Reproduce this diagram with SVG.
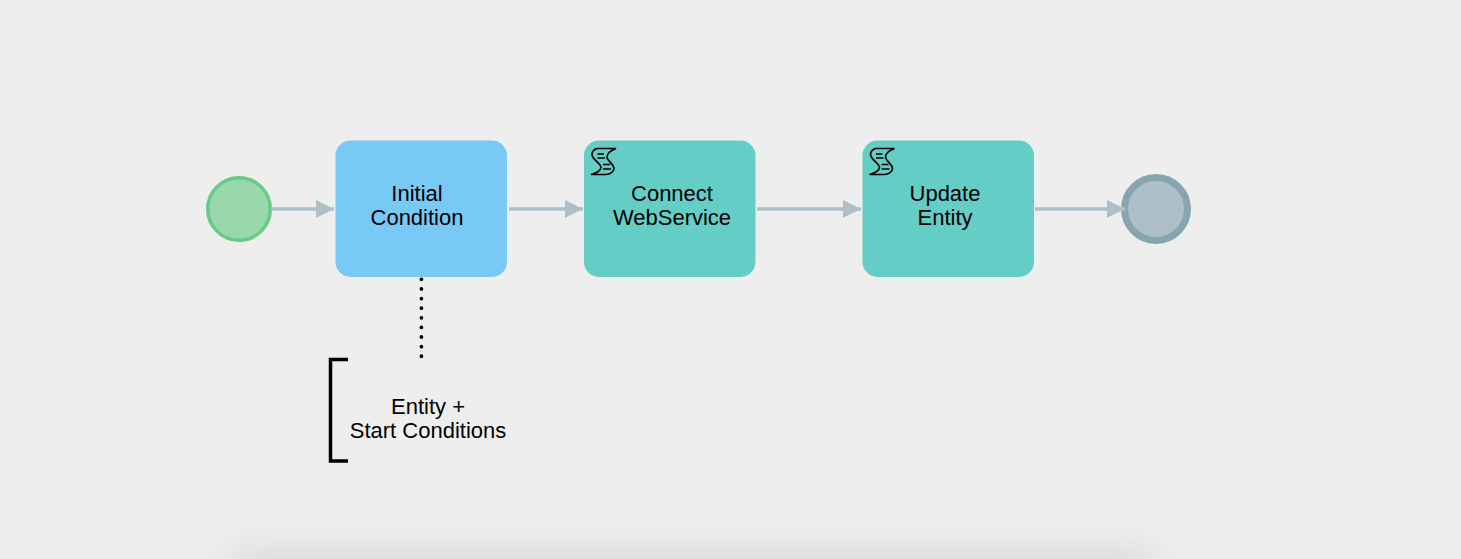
<svg xmlns="http://www.w3.org/2000/svg" width="1461" height="559" viewBox="0 0 1461 559">
<style>
.t{font-family:"Liberation Sans",Arial,sans-serif;font-size:22px;fill:#000;text-anchor:middle}
.flow{fill:none;stroke:#adc0c7;stroke-width:3.500}
.task{fill:#64cec6}
.ico{fill:none;stroke:#000;stroke-width:1.700}
</style>
<defs>
<filter id="blur" x="-10%" y="-300%" width="120%" height="700%"><feGaussianBlur stdDeviation="20"/></filter>
<marker id="arr" markerUnits="userSpaceOnUse" markerWidth="20" markerHeight="20" refX="18" refY="9" orient="auto"><path d="M0 0L18 9L0 18Z" fill="#adc0c7"/></marker>
<g id="icon">
<path class="ico" d="M6 1H25C20 3 16 6 16 9.500C16 13 23 17 23 21C23 24 19 27 15 27H0C5 26 10 23 10 20C10 16 1 12 1 7C1 4 3 2 6 1Z"/>
<path class="ico" d="M6.500 6.500H13M6.500 10.500H14M12 17H19M12 21.500H20"/>
</g>
</defs>
<rect width="1461" height="559" fill="#eeeeee"/>
<rect x="228" y="552" width="930" height="40" fill="#000" opacity=".09" filter="url(#blur)"/>
<g id="start"><circle cx="239" cy="209" r="31.300" fill="#99d8aa" stroke="#66cb84" stroke-width="3.500"/></g>
<g id="initial-condition"><rect x="335.500" y="140.500" width="171.500" height="136.500" rx="15" fill="#79c9f7"/>
<text class="t" x="417" y="200.500">Initial</text><text class="t" x="417" y="224.500">Condition</text></g>
<g id="connect-webservice"><rect class="task" x="584" y="140.500" width="171.500" height="136.500" rx="15"/>
<use href="#icon" x="591" y="147.500"/>
<text class="t" x="672" y="200.500">Connect</text><text class="t" x="672" y="224.500">WebService</text></g>
<g id="update-entity"><rect class="task" x="862.500" y="140.500" width="171.500" height="136.500" rx="15"/>
<use href="#icon" x="869.500" y="147.500"/>
<text class="t" x="945" y="200.500">Update</text><text class="t" x="945" y="224.500">Entity</text></g>
<g id="end"><circle cx="1156" cy="209" r="31.500" fill="#adc0c7" stroke="#87a5af" stroke-width="7"/></g>
<g id="annotation"><path fill="none" stroke="#000" stroke-width="3.500" d="M348 359.500H330.500V461H348"/>
<text class="t" x="428" y="413.500">Entity +</text><text class="t" x="428" y="437.500">Start Conditions</text></g>
<g id="connectors">
<path class="flow" marker-end="url(#arr)" d="M271 209H334"/>
<path class="flow" marker-end="url(#arr)" d="M509 209H583"/>
<path class="flow" marker-end="url(#arr)" d="M757 209H861"/>
<path class="flow" marker-end="url(#arr)" d="M1035 209H1125"/>
<path fill="none" stroke="#000" stroke-width="3.800" stroke-linecap="round" stroke-dasharray="0 9.620" d="M421.400 279.300V357"/>
</g>
</svg>
